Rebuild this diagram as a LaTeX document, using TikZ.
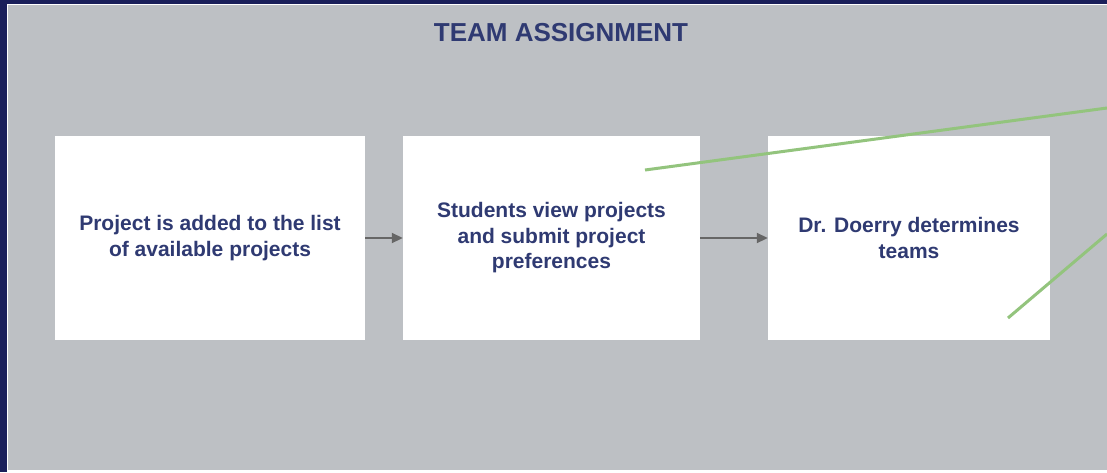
\documentclass[tikz,border=0pt]{standalone}
\usepackage{fontspec}
\setmainfont{Liberation Sans}
\usepackage{tikz}
\usetikzlibrary{arrows.meta,positioning}

\definecolor{navyframe}{HTML}{1A1F5A}
\definecolor{panelgray}{HTML}{BDC0C4}
\definecolor{textnavy}{HTML}{2F3A72}
\definecolor{arrowgray}{HTML}{666666}
\definecolor{notegreen}{HTML}{93C47D}

\begin{document}
\begin{tikzpicture}[x=1pt,y=-1pt,
  stepbox/.style={rectangle,fill=white,draw=none,minimum height=204,inner sep=0,align=center,
    text=textnavy,font=\fontsize{21}{25.5}\selectfont\bfseries},
  flow/.style={-{Triangle[length=11pt,width=10pt]},arrowgray,line width=1.8pt},
  note/.style={notegreen,line width=3pt}]

\useasboundingbox (0,0) rectangle (1107,472);
\fill[navyframe] (0,0) rectangle (1107,472);
\fill[white] (7,4) rectangle (1107,472);
\fill[panelgray] (8,5) rectangle (1107,470);

\node[text=textnavy,font=\fontsize{26}{30}\selectfont\bfseries] (title) at (561,33) {TEAM ASSIGNMENT};

\node[stepbox,minimum width=310] (added) at (210,238) {Project is added to the list\\of available projects};
\node[stepbox,minimum width=297] (view) at (551.5,238) {Students view projects\\and submit project\\preferences};
\node[stepbox,minimum width=282] (teams) at (909,238) {Dr. Doerry determines\\teams};

\draw[flow] (added) -- (view);
\draw[flow] (view) -- (teams);

\coordinate (noteA) at (645,170);
\coordinate (noteAend) at (1107,108);
\coordinate (noteB) at (1008,318);
\coordinate (noteBend) at (1107,234);
\draw[note] (noteA) -- (noteAend);
\draw[note] (noteB) -- (noteBend);

\end{tikzpicture}
\end{document}
